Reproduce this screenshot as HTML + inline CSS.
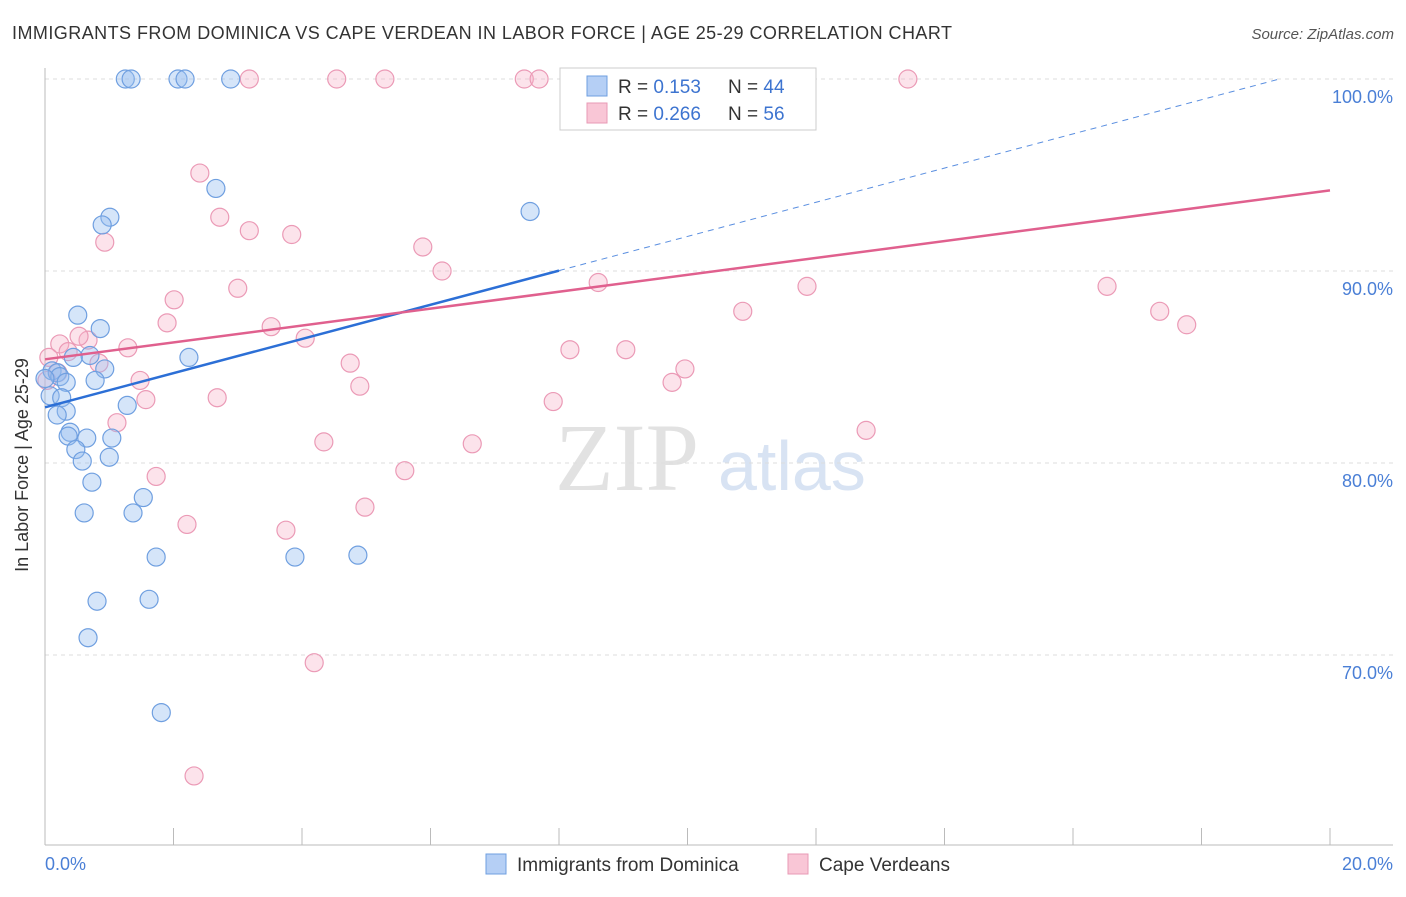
<!DOCTYPE html>
<html><head><meta charset="utf-8"><style>
body{margin:0;background:#fff;font-family:"Liberation Sans",sans-serif;}
</style></head><body>
<svg width="1406" height="892" xmlns="http://www.w3.org/2000/svg">
<text x="12" y="39" font-size="18" fill="#333" textLength="940">IMMIGRANTS FROM DOMINICA VS CAPE VERDEAN IN LABOR FORCE | AGE 25-29 CORRELATION CHART</text>
<text x="1394" y="39" font-size="15" fill="#555" font-style="italic" text-anchor="end">Source: ZipAtlas.com</text>
<text x="555" y="490" font-size="96" fill="#e2e2e2" font-family="Liberation Serif">ZIP</text>
<text x="718" y="490" font-size="70" fill="#d8e3f3">atlas</text>
<g id="grid"></g>
<line x1="45" y1="68" x2="45" y2="845" stroke="#bbb"/>
<line x1="45" y1="845" x2="1393" y2="845" stroke="#bbb"/>
<text x="20" y="457" font-size="18" fill="#333" transform="rotate(-90 28 457)" text-anchor="middle">In Labor Force | Age 25-29</text>
<text x="45" y="870" font-size="18" fill="#4a7fd6">0.0%</text>
<text x="1393" y="870" font-size="18" fill="#4a7fd6" text-anchor="end">20.0%</text>
<g id="points"></g>
<g id="trends"></g>
<g>
<rect x="560" y="68" width="256" height="62" fill="#fff" stroke="#ccc"/>
<rect x="587" y="76" width="20" height="20" fill="#b5cff5" stroke="#6f9fe0"/>
<text x="618" y="93" font-size="19" fill="#333">R = <tspan fill="#3d74d0">0.153</tspan></text>
<text x="728" y="93" font-size="19" fill="#333">N = <tspan fill="#3d74d0">44</tspan></text>
<rect x="587" y="103" width="20" height="20" fill="#f9c6d6" stroke="#e89ab5"/>
<text x="618" y="120" font-size="19" fill="#333">R = <tspan fill="#3d74d0">0.266</tspan></text>
<text x="728" y="120" font-size="19" fill="#333">N = <tspan fill="#3d74d0">56</tspan></text>
</g>
<g>
<rect x="486" y="854" width="20" height="20" fill="#b5cff5" stroke="#6f9fe0"/>
<text x="517" y="871" font-size="19" fill="#333">Immigrants from Dominica</text>
<rect x="788" y="854" width="20" height="20" fill="#f9c6d6" stroke="#e89ab5"/>
<text x="819" y="871" font-size="19" fill="#333">Cape Verdeans</text>
</g>
</svg>
<script>
const yTicks=[100,90,80,70];
const yTickLabels=["100.0%","90.0%","80.0%","70.0%"];
const xTicks=[0,2,4,6,8,10,12,14,16,18,20];
const blueX=[1.25,1.34,2.07,2.18,2.89,2.66,1.01,0.89,7.55,0.51,0.86,0.70,0.44,2.24,0.93,0.11,0.19,0.23,0.33,0.78,0.08,0.26,1.28,0.33,0.19,0.39,0.36,0.65,1.04,0.48,0.58,1.00,0.73,0.61,1.53,1.37,1.73,3.89,4.87,0.81,1.62,0.67,1.81,0.0];
const blueY=[100,100,100,100,100,94.3,92.8,92.4,93.1,87.7,87.0,85.6,85.5,85.5,84.9,84.8,84.7,84.5,84.2,84.3,83.5,83.4,83.0,82.7,82.5,81.6,81.4,81.3,81.3,80.7,80.1,80.3,79.0,77.4,78.2,77.4,75.1,75.1,75.2,72.8,72.9,70.9,67.0,84.4];
const pinkX=[3.18,4.54,5.29,7.46,7.69,8.33,11.28,13.43,2.41,2.72,3.18,3.84,0.93,5.88,6.18,3.00,2.01,1.90,3.52,4.05,0.23,0.67,0.53,0.36,1.29,0.84,0.06,0.03,0.20,4.75,4.90,1.48,1.57,2.68,1.12,4.34,6.65,7.91,8.17,9.04,8.61,10.86,11.86,9.96,9.76,12.78,16.53,17.35,17.77,1.73,5.60,4.98,2.21,3.75,4.19,2.32];
const pinkY=[100,100,100,100,100,100,100,100,95.1,92.8,92.1,91.9,91.5,91.25,90.0,89.1,88.5,87.3,87.1,86.5,86.2,86.4,86.6,85.8,86.0,85.2,85.5,84.3,84.7,85.2,84.0,84.3,83.3,83.4,82.1,81.1,81.0,83.2,85.9,85.9,89.4,87.9,89.2,84.9,84.2,81.7,89.2,87.9,87.2,79.3,79.6,77.7,76.8,76.5,69.6,63.7];
const blueTrend=[82.9,0.89];
const pinkTrend=[85.4,0.44];
const NS="http://www.w3.org/2000/svg";
const xs=v=>45+v*64.25;
const ys=v=>79+(100-v)*19.2;
function mk(t,a,p){const e=document.createElementNS(NS,t);for(const k in a)e.setAttribute(k,a[k]);p.appendChild(e);return e;}
const grid=document.getElementById('grid');
yTicks.forEach((t,i)=>{
 const l=mk('line',{x1:45,x2:1393,y1:ys(t),y2:ys(t),stroke:'#ddd','stroke-dasharray':'4,4'},grid);
 
 
 const tx=mk('text',{x:1393,y:ys(t)+24,'font-size':18,fill:'#4a7fd6','text-anchor':'end'},grid);
 tx.textContent=yTickLabels[i];
 
 
});
xTicks.forEach(t=>{
 const l=mk('line',{x1:xs(t),x2:xs(t),y1:828,y2:845,stroke:'#bbb'},grid);
 
 
});
const pts=document.getElementById('points');
pinkX.forEach((x,i)=>{
 const c=mk('circle',{cx:xs(x),cy:ys(pinkY[i]),r:9,fill:'rgba(245,175,198,0.35)',stroke:'#eb9ab6','stroke-width':1.2},pts);
 
 
});
blueX.forEach((x,i)=>{
 const c=mk('circle',{cx:xs(x),cy:ys(blueY[i]),r:9,fill:'rgba(150,190,240,0.4)',stroke:'#6f9fe0','stroke-width':1.2},pts);
 
 
});
const tr=document.getElementById('trends');
const bl=mk('line',{x1:xs(0),y1:ys(blueTrend[0]),x2:xs(8),y2:ys(blueTrend[0]+blueTrend[1]*8),stroke:'#2c6fd6','stroke-width':2.5},tr);


const bd=mk('line',{x1:xs(8),y1:ys(blueTrend[0]+blueTrend[1]*8),x2:xs(19.2),y2:ys(blueTrend[0]+blueTrend[1]*19.2),stroke:'#5b8fe0','stroke-width':1,'stroke-dasharray':'6,5'},tr);


const pl=mk('line',{x1:xs(0),y1:ys(pinkTrend[0]),x2:xs(20),y2:ys(pinkTrend[0]+pinkTrend[1]*20),stroke:'#e0608e','stroke-width':2.5},tr);


</script>
</body></html>
